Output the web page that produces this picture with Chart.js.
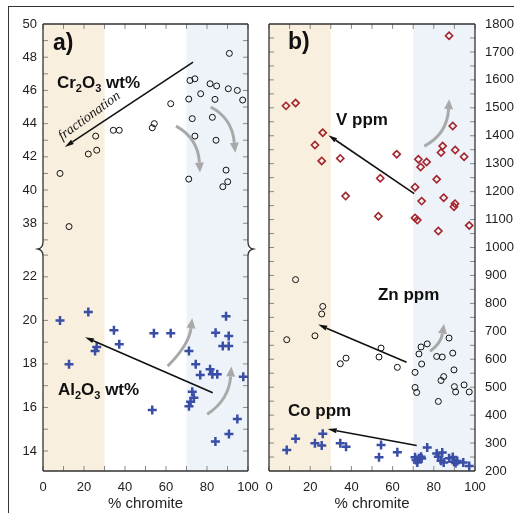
<!DOCTYPE html>
<html>
<head>
<meta charset="utf-8">
<script src="https://cdn.jsdelivr.net/npm/chart.js@4.4.1/dist/chart.umd.min.js"></script>
<style>
  html, body { margin: 0; padding: 0; background: #fff; }
  #fig { position: relative; width: 514px; height: 513px; overflow: hidden; background: #fff; }
  #frame { position: absolute; left: 8px; top: 6px; width: 600px; height: 600px; border: 1.5px solid #333; }
  .panel { position: absolute; top: 0; height: 513px; }
  #wrapA { left: 0; width: 270px; }
  #wrapB { left: 256px; width: 258px; }
</style>
</head>
<body>
<div id="fig">
  <div id="frame"></div>
  <div class="panel" id="wrapA"><canvas id="chartA"></canvas></div>
  <div class="panel" id="wrapB"><canvas id="chartB"></canvas></div>
</div>
<script>
// --- DATA ---
const crX = [8.3, 12.7, 22.1, 26.2, 25.7, 34.3, 37.2, 53.3, 54.3, 62.3, 71.1, 71.7, 74.1, 76.9, 72.8, 74.1, 71.1, 81.5, 84.7, 83.9, 82.6, 84.4, 90.9, 90.4, 94.8, 97.4, 89.3, 90.1, 87.7];
const crY = [41.0, 37.8, 42.17, 42.4, 43.25, 43.6, 43.6, 43.75, 44.0, 45.2, 45.48, 46.6, 46.7, 45.8, 44.3, 43.25, 40.66, 46.4, 46.27, 45.46, 44.38, 43.0, 48.23, 46.1, 46.0, 45.42, 41.2, 40.5, 40.2];

const alX = [8.3, 12.7, 22.1, 26.2, 25.4, 34.6, 37.2, 54.1, 53.3, 62.3, 71.2, 74.5, 76.7, 72.8, 73.6, 72.0, 71.2, 81.5, 82.6, 85.0, 84.2, 89.3, 90.6, 87.7, 90.6, 97.7, 94.8, 90.7, 84.1];
const alY = [20.0, 17.99, 20.39, 18.78, 18.59, 19.55, 18.9, 19.41, 15.88, 19.41, 18.59, 17.99, 17.49, 16.72, 16.45, 16.26, 16.06, 17.75, 17.53, 17.53, 19.43, 20.19, 19.28, 18.82, 18.82, 17.41, 15.47, 14.78, 14.43];

const vX = [8.25, 12.9, 26.1, 22.3, 25.6, 34.6, 37.2, 54.0, 53.1, 62.0, 70.9, 70.9, 72.0, 72.5, 73.6, 76.5, 74.1, 81.4, 82.2, 83.5, 84.3, 84.8, 87.4, 89.2, 90.4, 90.3, 89.8, 94.7, 97.2];
const vY = [1507, 1517, 1411, 1367, 1310, 1319, 1184, 1248, 1112, 1334, 1216, 1106, 1098, 1316, 1288, 1306, 1166, 1244, 1059, 1340, 1363, 1178, 1758, 1435, 1349, 1157, 1146, 1325, 1079];

const znX = [8.6, 12.9, 22.3, 25.6, 26.1, 34.6, 37.4, 53.4, 54.4, 62.3, 70.9, 70.9, 71.7, 72.8, 73.8, 74.1, 76.8, 81.4, 84.1, 82.2, 83.5, 84.8, 87.4, 89.2, 89.8, 90.0, 90.6, 94.7, 97.2];
const znY = [670, 885, 684, 762, 789, 584, 604, 608, 640, 571, 553, 499, 481, 619, 644, 583, 655, 610, 608, 449, 524, 538, 676, 622, 562, 502, 483, 508, 483];

const coX = [8.6, 12.9, 22.3, 25.6, 26.1, 34.6, 37.4, 53.4, 54.4, 62.3, 70.9, 71.4, 72.0, 72.8, 73.8, 74.1, 76.8, 81.4, 82.2, 83.5, 84.1, 84.8, 87.4, 89.2, 89.8, 90.6, 91.4, 94.3, 97.2];
const coY = [275, 315, 299, 291, 333, 299, 287, 249, 293, 267, 249, 239, 230, 246, 251, 245, 284, 263, 251, 237, 266, 230, 246, 250, 233, 229, 236, 230, 218];

const xTitle = '% chromite';

// --- HELPERS ---
const pts = (xs, ys) => xs.map((x, i) => ({ x: x, y: ys[i] }));
const FONT = '"Liberation Sans", Arial, sans-serif';
const BLUE = '#3a4ea6', RED = '#a3242b', GRAY = '#a9a9a9';

function head(ctx, fx, fy, tx, ty, len, wid) {
    const a = Math.atan2(ty - fy, tx - fx);
    const bx = tx - len * Math.cos(a), by = ty - len * Math.sin(a);
    ctx.beginPath();
    ctx.moveTo(tx, ty);
    ctx.lineTo(bx + wid / 2 * Math.sin(a), by - wid / 2 * Math.cos(a));
    ctx.lineTo(bx - wid / 2 * Math.sin(a), by + wid / 2 * Math.cos(a));
    ctx.closePath();
    ctx.fill();
    return [bx, by];
}

function ticksOn(ctx, scale, step, a, len) {
    const n0 = Math.ceil(scale.min / step - 1e-9), n1 = Math.floor(scale.max / step + 1e-9);
    for (let n = n0; n <= n1; n++) {
        const p = scale.getPixelForValue(n * step);
        if (scale.isHorizontal()) {
            ctx.moveTo(p, a.top); ctx.lineTo(p, a.top + len);
            ctx.moveTo(p, a.bottom); ctx.lineTo(p, a.bottom - len);
        } else {
            if (p < scale.top + 1 || p > scale.bottom - 1) continue;
            ctx.moveTo(a.left, p); ctx.lineTo(a.left + len, p);
            ctx.moveTo(a.right, p); ctx.lineTo(a.right - len, p);
        }
    }
}

// annotations: arrows / texts given in data units of a y axis
function makeFigPlugin(cfg) {
    return {
        id: 'fig',
        beforeDatasetsDraw(chart) {
            const { ctx, chartArea: a, scales } = chart;
            const x = scales.x;
            ctx.save();
            ctx.fillStyle = '#f8efdf';
            ctx.fillRect(x.getPixelForValue(0), a.top, x.getPixelForValue(30) - x.getPixelForValue(0), a.bottom - a.top);
            ctx.fillStyle = '#eef3f9';
            ctx.fillRect(x.getPixelForValue(70), a.top, x.getPixelForValue(100) - x.getPixelForValue(70), a.bottom - a.top);
            ctx.restore();
        },
        afterDatasetsDraw(chart) {
            const { ctx, chartArea: a, scales } = chart;
            const P = (v, ax) => [scales.x.getPixelForValue(v[0]), scales[ax].getPixelForValue(v[1])];
            ctx.save();
            // ticks
            ctx.strokeStyle = '#888';
            ctx.lineWidth = 1;
            ctx.beginPath();
            ticksOn(ctx, scales.x, 10, a, 5);
            cfg.yTicks.forEach(t => ticksOn(ctx, scales[t.id], t.step, a, 5));
            ctx.stroke();
            // frame
            ctx.strokeStyle = '#333';
            ctx.lineWidth = 1.3;
            ctx.beginPath();
            ctx.moveTo(a.left, a.top); ctx.lineTo(a.right, a.top);
            ctx.moveTo(a.left, a.bottom); ctx.lineTo(a.right, a.bottom);
            if (cfg.breakAxis) {
                const yb = scales[cfg.breakAxis].bottom;
                ctx.moveTo(a.left, a.top); ctx.lineTo(a.left, yb - 7);
                ctx.quadraticCurveTo(a.left, yb - 1, a.left - 5, yb);
                ctx.quadraticCurveTo(a.left, yb + 1, a.left, yb + 7);
                ctx.lineTo(a.left, a.bottom);
                ctx.moveTo(a.right, a.top); ctx.lineTo(a.right, yb - 7);
                ctx.quadraticCurveTo(a.right, yb - 1, a.right + 5, yb);
                ctx.quadraticCurveTo(a.right, yb + 1, a.right, yb + 7);
                ctx.lineTo(a.right, a.bottom);
            } else {
                ctx.moveTo(a.left, a.top); ctx.lineTo(a.left, a.bottom);
                ctx.moveTo(a.right, a.top); ctx.lineTo(a.right, a.bottom);
            }
            ctx.stroke();
            // arrows
            cfg.arrows.forEach(ar => {
                const f = P(ar.from, ar.ax), t = P(ar.to, ar.ax);
                ctx.lineCap = 'butt';
                if (ar.ctrl) {
                    const c = P(ar.ctrl, ar.ax);
                    ctx.fillStyle = GRAY; ctx.strokeStyle = GRAY; ctx.lineWidth = 3;
                    const b = head(ctx, c[0], c[1], t[0], t[1], 10, 9);
                    ctx.beginPath(); ctx.moveTo(f[0], f[1]);
                    ctx.quadraticCurveTo(c[0], c[1], b[0], b[1]); ctx.stroke();
                } else {
                    ctx.fillStyle = '#111'; ctx.strokeStyle = '#111'; ctx.lineWidth = 1.6;
                    const b = head(ctx, f[0], f[1], t[0], t[1], 9, 5);
                    ctx.beginPath(); ctx.moveTo(f[0], f[1]); ctx.lineTo(b[0], b[1]); ctx.stroke();
                }
            });
            // labels
            cfg.texts.forEach(tx => {
                const p = P(tx.at, tx.ax);
                ctx.fillStyle = '#111';
                ctx.textBaseline = 'alphabetic';
                if (tx.rot) {
                    ctx.save();
                    ctx.translate(p[0], p[1]); ctx.rotate(tx.rot * Math.PI / 180);
                    ctx.font = tx.font; ctx.textAlign = 'center';
                    ctx.fillText(tx.parts[0][0], 0, 0);
                    ctx.restore();
                    return;
                }
                ctx.textAlign = 'left';
                let xx = p[0];
                tx.parts.forEach(([s, sub]) => {
                    ctx.font = sub ? 'bold 11px ' + FONT : tx.font;
                    ctx.fillText(s, xx, p[1] + (sub ? 4 : 0));
                    xx += ctx.measureText(s).width;
                });
            });
            ctx.restore();
        }
    };
}

const tickFont = { family: FONT, size: 13 };
const every = (k) => (v) => (Math.abs(v / k - Math.round(v / k)) < 1e-6 ? String(Math.round(v)) : null);
const xScale = {
    type: 'linear', min: 0, max: 100,
    grid: { display: false, drawTicks: false }, border: { display: false },
    ticks: { stepSize: 20, font: tickFont, color: '#222', padding: 9, maxRotation: 0, callback: every(20) },
    title: { display: true, text: xTitle, font: { family: FONT, size: 15 }, color: '#222', padding: { top: 0, bottom: 0 } },
    afterFit: s => { s.height = 42; }
};

Chart.defaults.animation = false;

// --- PANEL a ---
new Chart(document.getElementById('chartA'), {
    type: 'scatter',
    data: {
        datasets: [
            { data: pts(crX, crY), yAxisID: 'yTop', pointStyle: 'circle', radius: 3, borderWidth: 1, borderColor: '#111', backgroundColor: 'rgba(0,0,0,0)' },
            { data: pts(alX, alY), yAxisID: 'yBot', pointStyle: 'cross', radius: 4.5, borderWidth: 2.5, borderColor: BLUE, backgroundColor: BLUE }
        ]
    },
    options: {
        responsive: true, maintainAspectRatio: false, devicePixelRatio: 1, events: [],
        layout: { padding: { left: 0, right: 22, top: 24, bottom: 0 } },
        plugins: { legend: { display: false }, tooltip: { enabled: false } },
        scales: {
            x: xScale,
            yBot: {
                type: 'linear', position: 'left', stack: 'a', stackWeight: 222, min: 13.08, max: 23.28,
                grid: { display: false, drawTicks: false }, border: { display: false },
                ticks: { stepSize: 2, includeBounds: false, font: tickFont, color: '#222', padding: 6, callback: every(2) },
                afterFit: s => { s.width = 43; }
            },
            yTop: {
                type: 'linear', position: 'left', stack: 'a', stackWeight: 225, min: 36.45, max: 50,
                grid: { display: false, drawTicks: false }, border: { display: false },
                ticks: { stepSize: 2, includeBounds: false, font: tickFont, color: '#222', padding: 6, callback: every(2) },
                afterFit: s => { s.width = 43; }
            }
        }
    },
    plugins: [makeFigPlugin({
        yTicks: [{ id: 'yTop', step: 1 }, { id: 'yBot', step: 1 }],
        breakAxis: 'yTop',
        arrows: [
            { ax: 'yTop', from: [73.2, 47.7], to: [10.7, 42.6] },
            { ax: 'yBot', from: [82.8, 16.68], to: [20.5, 19.23] },
            { ax: 'yTop', from: [64.9, 43.85], ctrl: [75.6, 43.13], to: [76.6, 41.05] },
            { ax: 'yTop', from: [81.8, 45.0], ctrl: [92.2, 44.34], to: [93.8, 42.25] },
            { ax: 'yBot', from: [60.8, 17.9], ctrl: [71.2, 18.87], to: [72.8, 20.1] },
            { ax: 'yBot', from: [80.1, 15.69], ctrl: [90.7, 16.34], to: [91.9, 17.88] }
        ],
        texts: [
            { ax: 'yTop', at: [4.9, 48.43], font: 'bold 23px ' + FONT, parts: [['a)', 0]] },
            { ax: 'yTop', at: [6.8, 46.14], font: 'bold 17px ' + FONT, parts: [['Cr', 0], ['2', 1], ['O', 0], ['3', 1], [' wt%', 0]] },
            { ax: 'yBot', at: [7.3, 16.57], font: 'bold 17px ' + FONT, parts: [['Al', 0], ['2', 1], ['O', 0], ['3', 1], [' wt%', 0]] },
            { ax: 'yTop', at: [23.7, 44.28], rot: -36, font: 'italic 14px "Liberation Serif", "Times New Roman", serif', parts: [['fractionation', 0]] }
        ]
    })]
});

// --- PANEL b ---
new Chart(document.getElementById('chartB'), {
    type: 'scatter',
    data: {
        datasets: [
            { data: pts(vX, vY), pointStyle: 'rectRot', radius: 3.6, borderWidth: 1.6, borderColor: RED, backgroundColor: 'rgba(0,0,0,0)' },
            { data: pts(znX, znY), pointStyle: 'circle', radius: 3, borderWidth: 1, borderColor: '#111', backgroundColor: 'rgba(0,0,0,0)' },
            { data: pts(coX, coY), pointStyle: 'cross', radius: 4.5, borderWidth: 2.5, borderColor: BLUE, backgroundColor: BLUE }
        ]
    },
    options: {
        responsive: true, maintainAspectRatio: false, devicePixelRatio: 1, events: [],
        layout: { padding: { left: 13, right: 0, top: 24, bottom: 0 } },
        plugins: { legend: { display: false }, tooltip: { enabled: false } },
        scales: {
            x: xScale,
            y: {
                type: 'linear', position: 'right', min: 200, max: 1800,
                grid: { display: false, drawTicks: false }, border: { display: false },
                ticks: { stepSize: 100, font: tickFont, color: '#222', padding: 10, callback: every(100) },
                afterFit: s => { s.width = 39; }
            }
        }
    },
    plugins: [makeFigPlugin({
        yTicks: [{ id: 'y', step: 50 }],
        breakAxis: null,
        arrows: [
            { ax: 'y', from: [70.5, 1193], to: [28.8, 1402] },
            { ax: 'y', from: [66.8, 589], to: [23.9, 724] },
            { ax: 'y', from: [71.7, 291], to: [28.5, 350] },
            { ax: 'y', from: [75.4, 1363], ctrl: [86.4, 1405], to: [87.5, 1531] },
            { ax: 'y', from: [78.2, 628], ctrl: [83.5, 659], to: [85, 727] }
        ],
        texts: [
            { ax: 'y', at: [9.2, 1710], font: 'bold 23px ' + FONT, parts: [['b)', 0]] },
            { ax: 'y', at: [32.5, 1438], font: 'bold 17px ' + FONT, parts: [['V ppm', 0]] },
            { ax: 'y', at: [52.9, 813], font: 'bold 17px ' + FONT, parts: [['Zn ppm', 0]] },
            { ax: 'y', at: [9.2, 397], font: 'bold 17px ' + FONT, parts: [['Co ppm', 0]] }
        ]
    })]
});
</script>
</body>
</html>
